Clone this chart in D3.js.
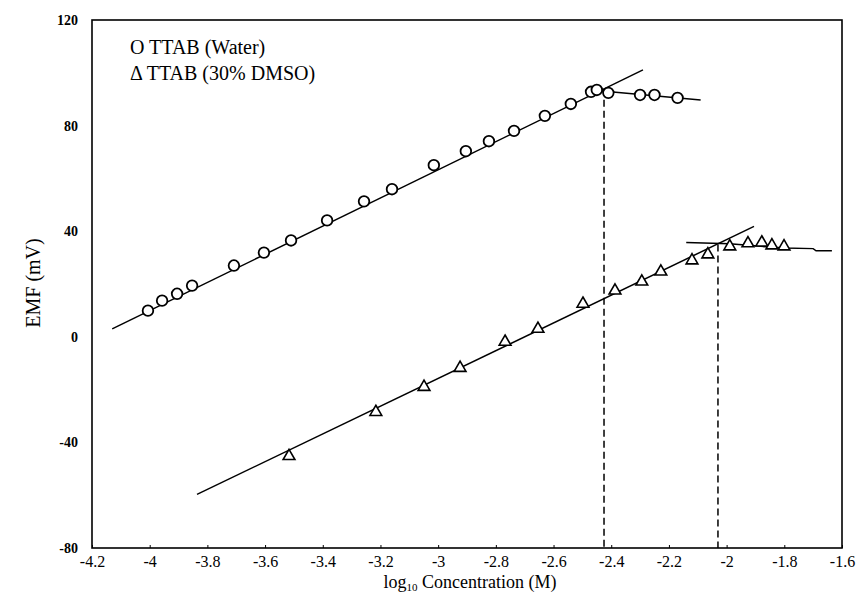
<!DOCTYPE html>
<html>
<head>
<meta charset="utf-8">
<script src="https://cdn.jsdelivr.net/npm/d3@7"></script>
<style>
  body { margin: 0; background: #fff; }
  svg { font-family: "Liberation Serif", "DejaVu Serif", serif; }
</style>
</head>
<body>
<svg width="861" height="595"></svg>
<script>
// tick values
const xTicks = [-4.2, -4, -3.8, -3.6, -3.4, -3.2, -3, -2.8, -2.6, -2.4, -2.2, -2, -1.8, -1.6];
const yTicks = [-80, -40, 0, 40, 80, 120];

// TTAB in water
const waterX = [-4.006, -3.957, -3.905, -3.853, -3.708, -3.604, -3.51, -3.385, -3.257, -3.16, -3.015,
    -2.904, -2.824, -2.737, -2.63, -2.54, -2.47, -2.45, -2.41, -2.30, -2.25, -2.17];
const waterY = [9.9, 13.7, 16.3, 19.4, 27.0, 31.9, 36.5, 44.1, 51.3, 55.9, 65.0,
    70.3, 74.1, 78.0, 83.7, 88.2, 92.8, 93.5, 92.4, 91.6, 91.6, 90.5];

// TTAB in 30% DMSO
const dmsoX = [-3.517, -3.216, -3.049, -2.924, -2.768, -2.654, -2.498, -2.387, -2.294, -2.228,
    -2.12, -2.065, -1.989, -1.926, -1.878, -1.843, -1.801];
const dmsoY = [-45.2, -28.5, -19.0, -11.8, -1.9, 3.0, 12.5, 17.5, 20.9, 24.7,
    28.9, 31.2, 34.2, 35.4, 35.7, 34.6, 34.2];

// fitted lines
const waterFit = [[-4.13, 3.0], [-2.29, 101.1]];
const waterFlat = [[-2.47, 93.5], [-2.09, 89.7]];
const dmsoFit = [[-3.836, -59.7], [-1.905, 41.8]];
const dmsoFlat = [[-2.14, 35.7], [-1.99, 35.2], [-1.80, 33.6], [-1.70, 33.4], [-1.69, 32.6], [-1.635, 32.6]];

// cmc markers
const cmcX = [-2.425, -2.03];
const cmcTop = [94, 35];

const svg = d3.select("svg"),
    margin = { top: 20, right: 19, bottom: 47, left: 92 },
    width = +svg.attr("width") - margin.left - margin.right,
    height = +svg.attr("height") - margin.top - margin.bottom,
    g = svg.append("g").attr("transform", `translate(${margin.left},${margin.top})`);

const x = d3.scaleLinear().domain([-4.2, -1.6]).range([0, width]),
    y = d3.scaleLinear().domain([-80, 120]).range([height, 0]);

const line = d3.line().x(d => x(d[0])).y(d => y(d[1]));

// frame
g.append("rect")
    .attr("width", width).attr("height", height)
    .attr("fill", "none").attr("stroke", "#000").attr("stroke-width", 1.6);

// axes
const xAxis = g.append("g")
    .attr("transform", `translate(0,${height})`)
    .call(d3.axisBottom(x).tickValues(xTicks).tickSize(-3).tickPadding(8).tickFormat(d => String(d)));
const yAxis = g.append("g")
    .call(d3.axisLeft(y).tickValues(yTicks).tickSize(0).tickPadding(14).tickFormat(d => String(d)));

[xAxis, yAxis].forEach(a => {
    a.select(".domain").remove();
    a.selectAll("text").attr("font-family", "Liberation Serif").attr("fill", "#000");
    a.selectAll("line").attr("stroke", "#000");
});
xAxis.selectAll("text").attr("font-size", 16);
yAxis.selectAll("text").attr("font-size", 14).attr("font-weight", "bold");

// lines
[waterFit, waterFlat, dmsoFit, dmsoFlat].forEach(d => {
    g.append("path").datum(d)
        .attr("d", line)
        .attr("fill", "none").attr("stroke", "#000").attr("stroke-width", 1.5);
});

// dashed cmc lines
g.selectAll(".cmc").data(cmcX).enter().append("line")
    .attr("class", "cmc")
    .attr("x1", d => x(d)).attr("x2", d => x(d))
    .attr("y1", (d, i) => y(cmcTop[i])).attr("y2", y(-80))
    .attr("stroke", "#000").attr("stroke-width", 1.5)
    .attr("stroke-dasharray", "7,4");

// water points
g.selectAll(".water").data(waterX).enter().append("circle")
    .attr("class", "water")
    .attr("cx", d => x(d))
    .attr("cy", (d, i) => y(waterY[i]))
    .attr("r", 5.3)
    .attr("fill", "#fff").attr("stroke", "#000").attr("stroke-width", 1.8);

// dmso points
const tri = d3.symbol().type(d3.symbolTriangle).size(60);
g.selectAll(".dmso").data(dmsoX).enter().append("path")
    .attr("class", "dmso")
    .attr("d", tri)
    .attr("transform", (d, i) => `translate(${x(d)},${y(dmsoY[i])})`)
    .attr("fill", "#fff").attr("stroke", "#000").attr("stroke-width", 1.6);

// legend
const legend = g.append("g").attr("font-size", 20).attr("fill", "#000");
legend.append("text").attr("x", 38).attr("y", 34).text("O TTAB (Water)");
legend.append("text").attr("x", 38).attr("y", 60).text("\u0394 TTAB (30% DMSO)");

// axis titles
svg.append("text")
    .attr("transform", "translate(40,283) rotate(-90)")
    .attr("text-anchor", "middle").attr("font-size", 20)
    .text("EMF (mV)");

const xt = svg.append("text")
    .attr("x", 470).attr("y", 588)
    .attr("text-anchor", "middle").attr("font-size", 18);
xt.append("tspan").text("log");
xt.append("tspan").attr("font-size", 11).attr("dy", 3).text("10");
xt.append("tspan").attr("dy", -3).text(" Concentration (M)");
</script>
</body>
</html>
